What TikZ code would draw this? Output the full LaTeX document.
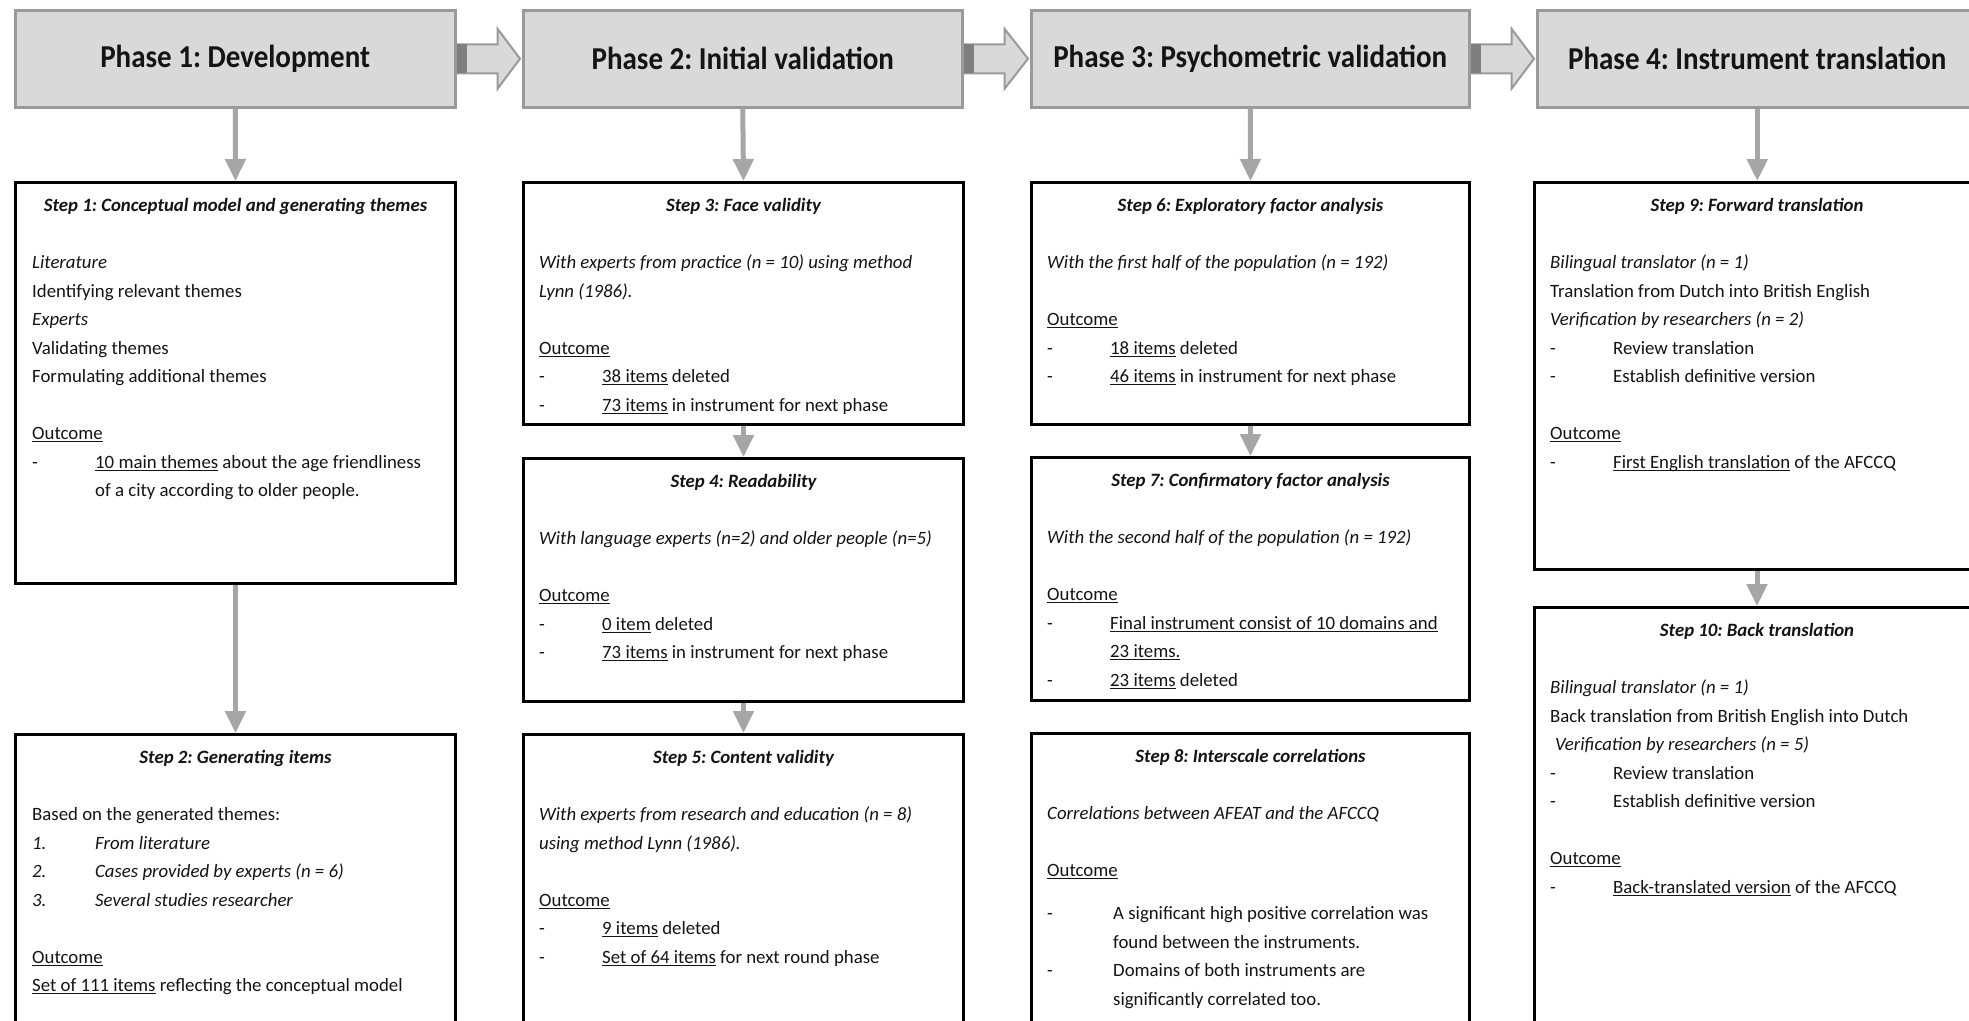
\documentclass[tikz,border=0pt]{standalone}
\usepackage{fontspec}
\setmainfont{Carlito}
\frenchspacing
\usetikzlibrary{arrows.meta,calc}
\definecolor{phasefill}{HTML}{D9D9D9}
\definecolor{phaseline}{HTML}{9A9A9A}
\definecolor{arrowgray}{HTML}{A6A6A6}
\definecolor{darkblk}{HTML}{7F7F7F}
\definecolor{txt}{HTML}{141414}
\newcommand\uln[1]{\setbox0\hbox{#1}\rlap{\rule[-2.6pt]{\wd0}{1.3pt}}\box0\relax}
\newcommand\dsh{\makebox[63pt][l]{-}}
\newcommand\dshw{\makebox[66pt][l]{-}}
\newcommand\indt{\hspace*{63pt}}
\newcommand\indw{\hspace*{66pt}}
\newcommand\fstr{\rule{0pt}{21pt}}
\newcommand\numit[1]{\makebox[63pt][l]{\itshape #1}}
\newcommand\ptitle[1]{\scalebox{1}[1.1]{#1}}
\newcommand\blockarrow[2]{%
  \draw[blk] ($(#1.east)+(0,-14.5)$) -- ($(#1.east)+(41,-14.5)$) -- ($(#1.east)+(41,-30)$)
    -- ($(#2.west)+(-2,0)$) -- ($(#1.east)+(41,30)$) -- ($(#1.east)+(41,14.5)$)
    -- ($(#1.east)+(0,14.5)$) -- cycle;
  \fill[darkblk] ($(#1.east)+(0,-14.5)$) rectangle ($(#1.east)+(10,14.5)$);}
\begin{document}
\begin{tikzpicture}[x=1pt,y=-1pt,
  phasebox/.style={draw=phaseline, line width=2.5pt, fill=phasefill, minimum height=97pt,
    anchor=north west, inner sep=0pt, text=txt, font=\fontsize{29}{34}\selectfont\bfseries},
  stepbox/.style={draw=black, line width=3pt, anchor=north west, inner sep=0pt},
  ttl/.style={anchor=base, inner sep=0pt, text=txt, font=\fontsize{18.8}{28.5}\selectfont\bfseries\itshape},
  body/.style={anchor=north west, inner sep=0pt, align=left, text=txt, font=\fontsize{18.8}{28.5}\selectfont},
  down/.style={draw=arrowgray, line width=5pt, -{Triangle[width=20pt,length=22pt]}},
  blk/.style={fill=phasefill, draw=phaseline, line width=2pt, line join=miter},
]
\useasboundingbox (0,0) rectangle (1969,1020);
\fill[white] (0,0) rectangle (1969,1020);

% phases
\node[phasebox, minimum width=440pt] (p1) at (14,9) {\ptitle{Phase 1: Development}};
\node[phasebox, minimum width=439pt] (p2) at (522,9) {\ptitle{Phase 2: Initial validation}};
\node[phasebox, minimum width=438pt] (p3) at (1030,9) {\ptitle{Phase 3: Psychometric validation}};
\node[phasebox, minimum width=440pt] (p4) at (1536,9) {\ptitle{Phase 4: Instrument translation}};

\blockarrow{p1}{p2}
\blockarrow{p2}{p3}
\blockarrow{p3}{p4}

% step boxes
\node[stepbox, minimum width=440pt, minimum height=401pt] (s1) at (14,181) {};
\node[stepbox, minimum width=440pt, minimum height=310pt] (s2) at (14,733) {};
\node[stepbox, minimum width=440pt, minimum height=242pt] (s3) at (522,181) {};
\node[stepbox, minimum width=440pt, minimum height=243pt] (s4) at (522,457) {};
\node[stepbox, minimum width=440pt, minimum height=310pt] (s5) at (522,733) {};
\node[stepbox, minimum width=438pt, minimum height=242pt] (s6) at (1030,181) {};
\node[stepbox, minimum width=438pt, minimum height=243pt] (s7) at (1030,456) {};
\node[stepbox, minimum width=438pt, minimum height=310pt] (s8) at (1030,732) {};
\node[stepbox, minimum width=445pt, minimum height=387pt] (s9) at (1533,181) {};
\node[stepbox, minimum width=445pt, minimum height=440pt] (s10) at (1533,606) {};

% arrows
\draw[down] (p1.south) -- (s1.north);
\draw[down] (p2.south) -- (s3.north);
\draw[down] (p3.south) -- (s6.north);
\draw[down] (p4.south) -- (p4.south |- s9.north);
\draw[down] (s1.south) -- (s2.north);
\draw[down] (s3.south) -- (s4.north);
\draw[down] (s4.south) -- (s5.north);
\draw[down] (s6.south) -- (s7.north);
\draw[down] (s9.south) -- (s10.north);

% titles
\node[ttl] (s1t) at ($(s1.north)+(0,30.5)$) {Step 1: Conceptual model and generating themes};
\node[ttl] (s2t) at ($(s2.north)+(0,30.5)$) {Step 2: Generating items};
\node[ttl] (s3t) at ($(s3.north)+(0,30.5)$) {Step 3: Face validity};
\node[ttl] (s4t) at ($(s4.north)+(0,30.5)$) {Step 4: Readability};
\node[ttl] (s5t) at ($(s5.north)+(0,30.5)$) {Step 5: Content validity};
\node[ttl] (s6t) at ($(s6.north)+(0,30.5)$) {Step 6: Exploratory factor analysis};
\node[ttl] (s7t) at ($(s7.north)+(0,30.5)$) {Step 7: Confirmatory factor analysis};
\node[ttl] (s8t) at ($(s8.north)+(0,30.5)$) {Step 8: Interscale correlations};
\node[ttl] (s9t) at ($(s9.north)+(0,30.5)$) {Step 9: Forward translation};
\node[ttl] (s10t) at ($(s10.north)+(0,30.5)$) {Step 10: Back translation};

% bodies
\node[body] (s1b) at ($(s1.north west)+(18,66.5)$) {\fstr\textit{Literature}\\
Identifying relevant themes\\
\textit{Experts}\\
Validating themes\\
Formulating additional themes\\[28.5pt]
\uln{Outcome}\\
\dsh\uln{10 main themes} about the age friendliness\\
\indt of a city according to older people.};

\node[body] (s2b) at ($(s2.north west)+(18,66.5)$) {\fstr Based on the generated themes:\\
\numit{1.}\textit{From literature}\\
\numit{2.}\textit{Cases provided by experts (n = 6)}\\
\numit{3.}\textit{Several studies researcher}\\[28.5pt]
\uln{Outcome}\\
\uln{Set of 111 items} reflecting the conceptual model};

\node[body] (s3b) at ($(s3.north west)+(17,66.5)$) {\fstr\textit{With experts from practice (n = 10) using method}\\
\textit{Lynn (1986).}\\[28.5pt]
\uln{Outcome}\\
\dsh\uln{38 items} deleted\\
\dsh\uln{73 items} in instrument for next phase};

\node[body] (s4b) at ($(s4.north west)+(17,66.5)$) {\fstr\textit{With language experts (n=2) and older people (n=5)}\\[28.5pt]
\uln{Outcome}\\
\dsh\uln{0 item} deleted\\
\dsh\uln{73 items} in instrument for next phase};

\node[body] (s5b) at ($(s5.north west)+(17,66.5)$) {\fstr\textit{With experts from research and education (n = 8)}\\
\textit{using method Lynn (1986).}\\[28.5pt]
\uln{Outcome}\\
\dsh\uln{9 items} deleted\\
\dsh\uln{Set of 64 items} for next round phase};

\node[body] (s6b) at ($(s6.north west)+(17,66.5)$) {\fstr\textit{With the first half of the population (n = 192)}\\[28.5pt]
\uln{Outcome}\\
\dsh\uln{18 items} deleted\\
\dsh\uln{46 items} in instrument for next phase};

\node[body] (s7b) at ($(s7.north west)+(17,66.5)$) {\fstr\textit{With the second half of the population (n = 192)}\\[28.5pt]
\uln{Outcome}\\
\dsh\uln{Final instrument consist of 10 domains and}\\
\indt\uln{23 items.}\\
\dsh\uln{23 items} deleted};

\node[body] (s8b) at ($(s8.north west)+(17,66.5)$) {\fstr\textit{Correlations between AFEAT and the AFCCQ}\\[28.5pt]
\uln{Outcome}\\[14.5pt]
\dshw A significant high positive correlation was\\
\indw found between the instruments.\\
\dshw Domains of both instruments are\\
\indw significantly correlated too.};

\node[body] (s9b) at ($(s9.north west)+(17,66.5)$) {\fstr\textit{Bilingual translator (n = 1)}\\
Translation from Dutch into British English\\
\textit{Verification by researchers (n = 2)}\\
\dsh Review translation\\
\dsh Establish definitive version\\[28.5pt]
\uln{Outcome}\\
\dsh\uln{First English translation} of the AFCCQ};

\node[body] (s10b) at ($(s10.north west)+(17,66.5)$) {\fstr\textit{Bilingual translator (n = 1)}\\
Back translation from British English into Dutch\\
\hspace*{5pt}\textit{Verification by researchers (n = 5)}\\
\dsh Review translation\\
\dsh Establish definitive version\\[28.5pt]
\uln{Outcome}\\
\dsh\uln{Back-translated version} of the AFCCQ};
\end{tikzpicture}
\end{document}
